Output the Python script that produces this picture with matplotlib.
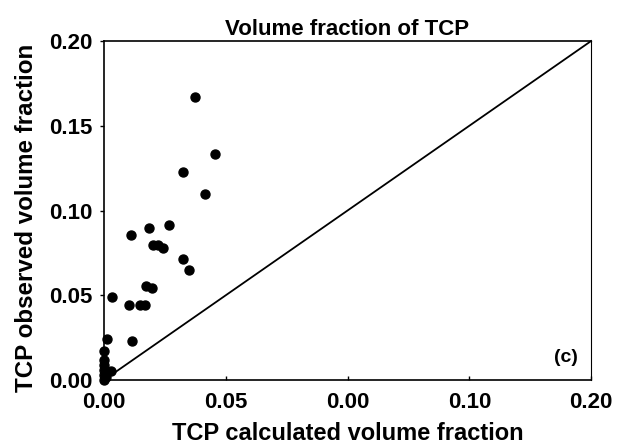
import matplotlib
matplotlib.use("Agg")
import matplotlib.pyplot as plt

calc = [0.0374, 0.0455, 0.0324, 0.0416, 0.0185, 0.0267, 0.0111,
        0.0200, 0.0222, 0.0244, 0.0326, 0.0348, 0.0172, 0.0196,
        0.0104, 0.0148, 0.0168, 0.0032, 0.0114, 0.0014,
        0.0000, 0.0000, 0.0000, 0.0000, 0.0000, 0.0000, 0.0030, 0.0010]
obs = [0.167, 0.1333, 0.1225, 0.110, 0.0895, 0.0913, 0.0854,
       0.0795, 0.0795, 0.0777, 0.0714, 0.0647, 0.0553, 0.0545,
       0.0442, 0.0442, 0.0442, 0.049, 0.0232, 0.0240,
       0.0170, 0.0120, 0.0090, 0.0060, 0.0030, 0.0000, 0.0055, 0.0020]

xticks = [0.00, 0.05, 0.10, 0.15, 0.20]
xticklabels = ["0.00", "0.05", "0.00", "0.10", "0.20"]
yticks = [0.00, 0.05, 0.10, 0.15, 0.20]
yticklabels = ["0.00", "0.05", "0.10", "0.15", "0.20"]
line_x = [0.0, 0.2]
line_y = [0.0, 0.2]

plt.rcParams['font.family'] = ['Liberation Sans', 'DejaVu Sans']

fig = plt.figure(figsize=(6.17, 4.46), dpi=100)
ax = fig.add_axes([0.1686, 0.148, 0.7894, 0.760])

ax.plot(line_x, line_y, color='black', lw=1.3, clip_on=False)
ax.scatter(calc, obs, s=42, color='black', zorder=3, clip_on=False)

ax.set_xlim(0, 0.2)
ax.set_ylim(0, 0.2)
ax.set_xticks(xticks)
ax.set_xticklabels(xticklabels, fontsize=16, fontweight='bold')
ax.set_yticks(yticks)
ax.set_yticklabels(yticklabels, fontsize=16, fontweight='bold')
ax.tick_params(axis='x', direction='in', length=3, width=1, pad=9)
ax.tick_params(axis='y', direction='out', length=3, width=1, pad=5)
for sp in ax.spines.values():
    sp.set_linewidth(1.2)
ax.spines['right'].set_linewidth(0.8)

ax.set_xlabel("TCP calculated volume fraction", fontsize=17, fontweight='bold', labelpad=6)
ax.set_ylabel("TCP observed volume fraction", fontsize=17.4, fontweight='bold',
              labelpad=8, y=0.478)
ax.set_title("Volume fraction of TCP", fontsize=16, fontweight='bold', pad=4)
ax.text(0.1947, 0.008, "(c)", fontsize=14, fontweight='bold', ha='right', va='bottom')

fig.savefig("out.png", dpi=100)
